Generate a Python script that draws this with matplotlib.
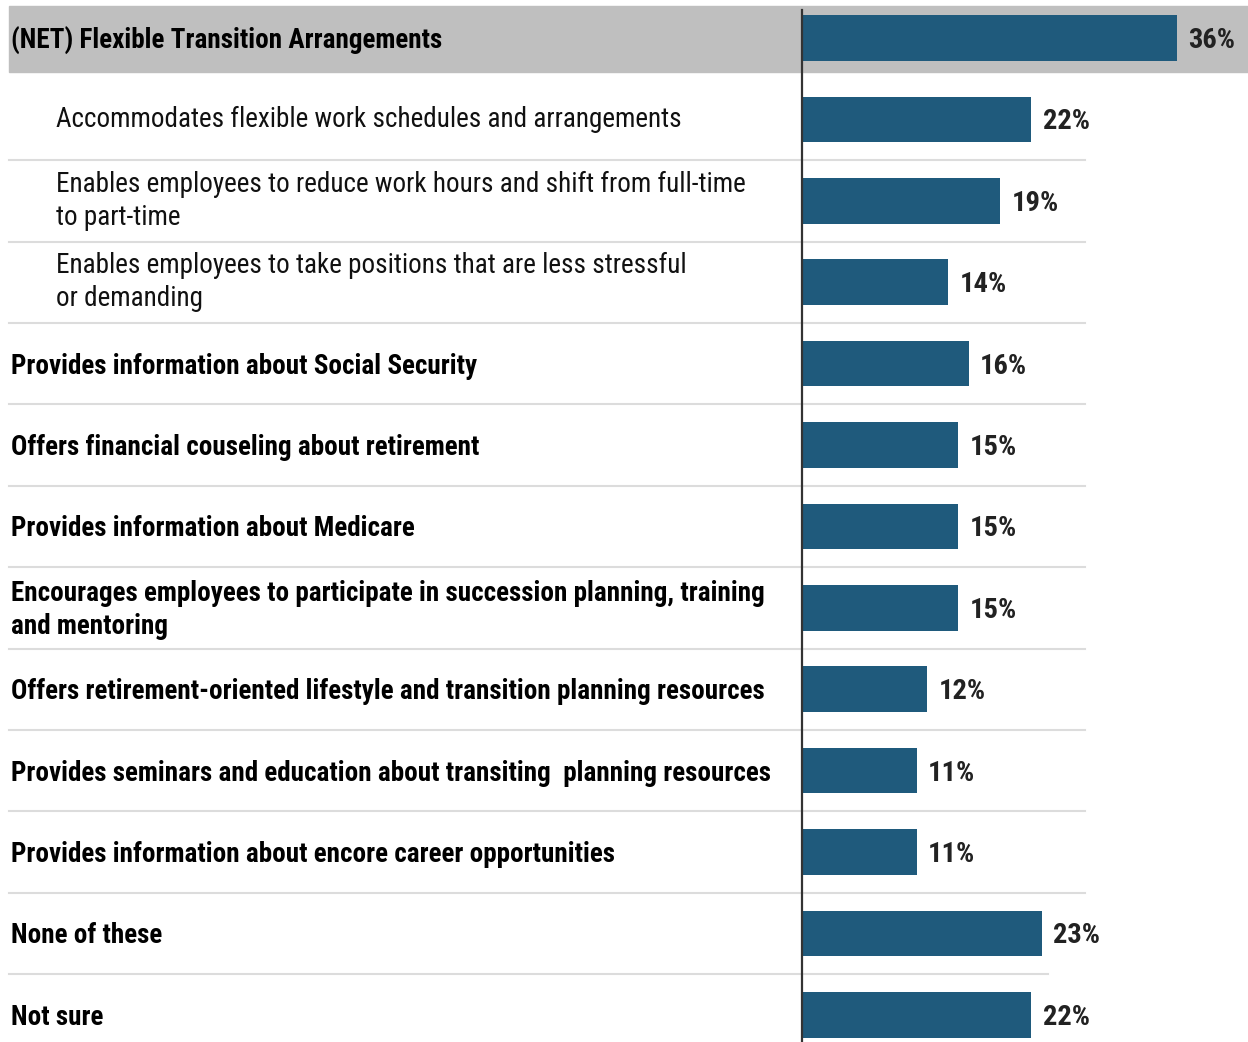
import matplotlib
matplotlib.use('Agg')
import matplotlib.pyplot as plt
import matplotlib.transforms as mtransforms

# Data
labels = [
    '(NET) Flexible Transition Arrangements',
    'Accommodates flexible work schedules and arrangements',
    'Enables employees to reduce work hours and shift from full-time\nto part-time',
    'Enables employees to take positions that are less stressful\nor demanding',
    'Provides information about Social Security',
    'Offers financial couseling about retirement',
    'Provides information about Medicare',
    'Encourages employees to participate in succession planning, training\nand mentoring',
    'Offers retirement-oriented lifestyle and transition planning resources',
    'Provides seminars and education about transiting  planning resources',
    'Provides information about encore career opportunities',
    'None of these',
    'Not sure',
]
values = [36, 22, 19, 14, 16, 15, 15, 15, 12, 11, 11, 23, 22]
is_sub = [False, True, True, True, False, False, False, False, False, False, False, False, False]

bar_color = '#1F5A7C'
band_color = '#BFBFBF'
sep_color = '#DCDCDC'
cond = ['Roboto Condensed', 'DejaVu Sans']

W, H = 1248, 1042
fig = plt.figure(figsize=(W / 100, H / 100), dpi=100)
ax = fig.add_axes([0, 0, 1, 1])

# pixel geometry -> data limits
x0_px, px_per_pct = 802, 10.42
row0_px, row_step = 38, 81.4
ax.set_xlim(-x0_px / px_per_pct, (W - x0_px) / px_per_pct)
ax.set_ylim((H - row0_px) / row_step, -row0_px / row_step)
ax.axis('off')

n = len(values)
ypos = list(range(n))

# grey band behind the NET row
ax.axhspan(-0.39, 0.42, xmin=9 / W, xmax=1, color=band_color, zorder=0)

ax.barh(ypos, values, height=0.56, color=bar_color, zorder=2)

# vertical baseline
ax.axvline(0, ymin=0, ymax=1 - 10 / H, color='#333333', lw=1.6, zorder=3)

blend = mtransforms.blended_transform_factory(ax.transAxes, ax.transData)

# separators
for i in range(1, n - 1):
    right = 1048 / W if i == n - 2 else 1085 / W
    ax.plot([9 / W, right], [i + 0.5, i + 0.5], transform=blend,
            color=sep_color, lw=1.5, zorder=1)

for i, (lab, v, sub) in enumerate(zip(labels, values, is_sub)):
    if sub:
        ax.text(56 / W, i + 0.0, lab, transform=blend, va='center', ha='left',
                fontsize=19.5, family=cond, color='#111111', linespacing=1.28)
    else:
        ax.text(11 / W, i + 0.03, lab, transform=blend, va='center', ha='left',
                fontsize=19.5, fontweight='bold', family=cond,
                color='#000000', linespacing=1.28)
    ax.text(v + 1.1, i + 0.03, f'{v}%', va='center', ha='left', fontsize=20.5,
            fontweight='bold', family=cond, color='#222222')

fig.savefig('out.png', dpi=100)
